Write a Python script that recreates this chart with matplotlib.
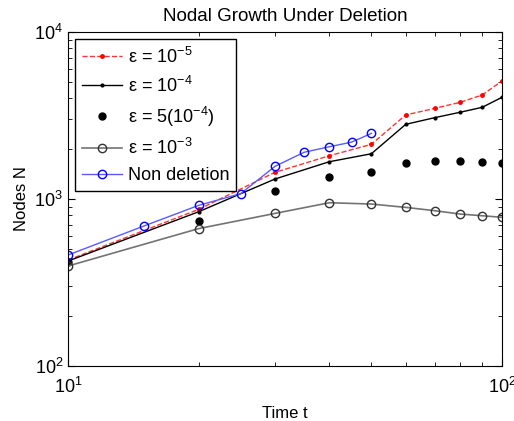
import numpy as np
import matplotlib
matplotlib.use('Agg')
import matplotlib.pyplot as plt
from matplotlib.ticker import NullFormatter

plt.rcParams['font.family'] = ['Liberation Sans', 'DejaVu Sans']
plt.rcParams['mathtext.default'] = 'regular'

# time steps
t = [10, 20, 30, 40, 50, 60, 70, 80, 90, 100]
t_nd = [10, 15, 20, 25, 30, 35, 40, 45, 50]

# node counts
N_e5 = [431, 867, 1445, 1815, 2125, 3185, 3490, 3790, 4195, 5090]
N_e4 = [425, 839, 1318, 1672, 1866, 2800, 3070, 3305, 3540, 4065]
N_5e4 = [421, 741, 1110, 1361, 1459, 1634, 1693, 1693, 1672, 1634]
N_e3 = [397, 665, 820, 950, 933, 891, 851, 813, 794, 777]
N_nd = [462, 691, 916, 1077, 1570, 1905, 2055, 2190, 2470]

fig = plt.figure(figsize=(5.14, 4.21), dpi=100)
ax = fig.add_axes([0.1323, 0.1306, 0.8444, 0.7934])

ax.loglog(t, N_e5, '--', color='#ff3333', marker='.', markersize=5,
          markerfacecolor='r', markeredgecolor='r', linewidth=1, label='ε = 10$^{-5}$')
ax.loglog(t, N_e4, '-', color='k', marker='.', markersize=4,
          linewidth=1, label='ε = 10$^{-4}$')
ax.loglog(t, N_5e4, 'o', color='k', markersize=5, label='ε = 5(10$^{-4}$)')
ax.loglog(t, N_e3, '-', color='0.45', marker='o', markersize=6,
          markerfacecolor='none', markeredgecolor='0.2', linewidth=1.2,
          label='ε = 10$^{-3}$')
ax.loglog(t_nd, N_nd, '-', color='#5a5aff', marker='o', markersize=6,
          markerfacecolor='none', markeredgecolor='b', linewidth=1,
          label='Non deletion')

ax.set_xlim(10, 100)
ax.set_ylim(100, 10000)
ax.xaxis.set_minor_formatter(NullFormatter())
ax.tick_params(which='both', direction='in', top=True, right=True)
ax.tick_params(which='major', length=5, labelsize=13)
ax.tick_params(which='minor', length=3)
ax.tick_params(axis='x', pad=8)

ax.set_title('Nodal Growth Under Deletion', fontsize=13.5, pad=8)
ax.set_xlabel('Time t', fontsize=12, labelpad=6)
ax.set_ylabel('Nodes N', fontsize=12)

leg = ax.legend(loc='upper left', fontsize=13, fancybox=False,
                edgecolor='k', framealpha=1, handlelength=2.2,
                handletextpad=0.3, borderaxespad=0.4, labelspacing=0.5)
leg.get_frame().set_linewidth(1.0)

plt.savefig('out.png', dpi=100)
